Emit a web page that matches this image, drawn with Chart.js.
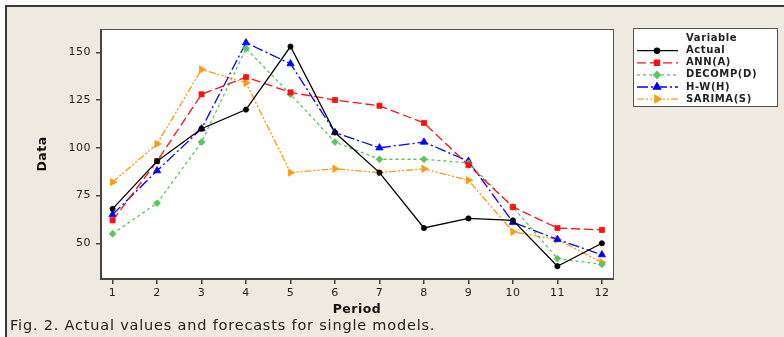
<!DOCTYPE html>
<html>
<head>
<meta charset="utf-8">
<script src="https://cdn.jsdelivr.net/npm/chart.js@4"></script>
<style>
  html, body { margin: 0; padding: 0; background: #fff; }
  body { width: 784px; height: 337px; position: relative; overflow: hidden; }
  #frame {
    position: absolute; left: 5px; top: 5px; width: 800px; height: 340px;
    background: #eeeae0; border-top: 2px solid #3a3a3a; border-left: 2px solid #3a3a3a;
  }
  #chart { position: absolute; left: 0; top: 0; }
  #caption {
    position: absolute; left: 10px; top: 317px;
    font: 14.5px "DejaVu Sans", sans-serif; letter-spacing: 0.8px; color: #222; white-space: nowrap;
  }
</style>
</head>
<body>
<div id="frame"></div>
<canvas id="chart" width="784" height="337"></canvas>
<div id="caption">Fig. 2. Actual values and forecasts for single models.</div>
<script>
// ✅ Chart data
const periods = [1, 2, 3, 4, 5, 6, 7, 8, 9, 10, 11, 12];
const actual = [68, 93, 110, 120, 153, 108, 87, 58, 63, 62, 38, 50];
const ann = [62, 93, 128, 137, 129, 125, 122, 113, 91, 69, 58, 57];
const decomp = [55, 71, 103, 152, 128, 103, 94, 94, 92, 69, 42, 39];
const holtWinters = [65, 88, 110, 155, 144, 108, 100, 103, 93, 61, 52, 44];
const sarima = [82, 102, 141, 134, 87, 89, 87, 89, 83, 56, 52, 40];
const yTicks = [50, 75, 100, 125, 150];
const seriesLabels = ["Actual", "ANN(A)", "DECOMP(D)", "H-W(H)", "SARIMA(S)"];

const toPoints = (values) => periods.map((p, i) => ({ x: p, y: values[i] }));

const styles = [
  { color: "#000000", dash: [], pointStyle: "circle", radius: 2.6, rotation: 0 },
  { color: "#ff1010", dash: [9, 4], pointStyle: "rect", radius: 3.6, rotation: 0 },
  { color: "#5cc45c", dash: [3, 3], pointStyle: "rectRot", radius: 3.4, rotation: 0 },
  { color: "#0000ff", dash: [11, 3, 2, 3], pointStyle: "triangle", radius: 4.2, rotation: 0 },
  { color: "#ff9a10", dash: [7, 2, 2, 2, 2, 2], pointStyle: "triangle", radius: 4.2, rotation: 90 },
];
const allValues = [actual, ann, decomp, holtWinters, sarima];

const datasets = allValues.map((values, i) => ({
  label: seriesLabels[i],
  data: toPoints(values),
  borderColor: styles[i].color,
  backgroundColor: styles[i].color,
  borderWidth: 1.3,
  borderDash: styles[i].dash,
  pointStyle: styles[i].pointStyle,
  pointRotation: styles[i].rotation,
  pointRadius: styles[i].radius,
  pointBorderWidth: 0.8,
  tension: 0,
}));

// ✅ Plot area background, frame and the boxed legend
const framePlugin = {
  id: "frame",
  afterInit(chart) {
    chart.ctx.letterSpacing = "0.5px";
  },
  beforeDatasetsDraw(chart) {
    const { ctx, chartArea: a } = chart;
    ctx.save();
    ctx.fillStyle = "#ffffff";
    ctx.fillRect(a.left, a.top, a.right - a.left, a.bottom - a.top);
    ctx.strokeStyle = "#555";
    ctx.lineWidth = 1;
    ctx.strokeRect(a.left + 0.5, a.top + 0.5, a.right - a.left, a.bottom - a.top);
    ctx.lineWidth = 2;
    ctx.strokeStyle = "#444";
    ctx.beginPath();
    ctx.moveTo(a.left, a.top);
    ctx.lineTo(a.left, a.bottom);
    ctx.lineTo(a.right, a.bottom);
    ctx.stroke();
    ctx.restore();
  },
  afterDraw(chart) {
    const ctx = chart.ctx;
    ctx.save();
    ctx.fillStyle = "#ffffff";
    ctx.fillRect(633, 28, 144, 78);
    ctx.strokeStyle = "#555";
    ctx.lineWidth = 1;
    ctx.strokeRect(633.5, 28.5, 144, 78);

    ctx.font = "bold 10px 'DejaVu Sans'";
    ctx.letterSpacing = "0.6px";
    ctx.textBaseline = "middle";
    ctx.fillStyle = "#222";
    ctx.fillText("Variable", 686, 38.5);

    chart.data.datasets.forEach((ds, i) => {
      const y = 50.7 + i * 12.1;
      ctx.strokeStyle = ds.borderColor;
      ctx.fillStyle = ds.borderColor;
      ctx.lineWidth = 1.3;
      ctx.setLineDash(ds.borderDash);
      ctx.beginPath();
      ctx.moveTo(637, y);
      ctx.lineTo(678, y);
      ctx.stroke();
      ctx.setLineDash([]);
      Chart.helpers.drawPoint(ctx, {
        pointStyle: ds.pointStyle,
        rotation: ds.pointRotation,
        radius: ds.pointRadius,
        borderWidth: 0.8,
      }, 657, y);
      ctx.fillStyle = "#222";
      ctx.fillText(ds.label, 686, y);
    });
    ctx.restore();
  },
};

new Chart(document.getElementById("chart"), {
  type: "line",
  data: { datasets },
  options: {
    responsive: false,
    animation: false,
    devicePixelRatio: 1,
    layout: { padding: { left: 0, top: 29, right: 171, bottom: 0 } },
    plugins: { legend: { display: false }, tooltip: { enabled: false } },
    scales: {
      x: {
        type: "linear",
        min: 0.74,
        max: 12.25,
        afterFit: (scale) => { scale.height = 58; },
        afterBuildTicks: (scale) => { scale.ticks = periods.map((v) => ({ value: v })); },
        grid: { drawOnChartArea: false, drawTicks: true, tickLength: 5, color: "#444", lineWidth: 1.5 },
        border: { display: false },
        ticks: { padding: 3, color: "#222", font: { family: "DejaVu Sans", size: 11 } },
        title: {
          display: true, text: "Period", color: "#111",
          font: { family: "DejaVu Sans", size: 12.5, weight: "bold" },
          padding: { top: 0, bottom: 20 },
        },
      },
      y: {
        min: 31.3,
        max: 162.2,
        afterFit: (scale) => { scale.width = 101; },
        afterBuildTicks: (scale) => { scale.ticks = yTicks.map((v) => ({ value: v })); },
        grid: { drawOnChartArea: false, drawTicks: true, tickLength: 5, color: "#444", lineWidth: 1.5 },
        border: { display: false },
        ticks: { padding: 5, color: "#222", font: { family: "DejaVu Sans", size: 11 } },
        title: {
          display: true, text: "Data", color: "#111",
          font: { family: "DejaVu Sans", size: 12.5, weight: "bold" },
          padding: { top: 35, bottom: 0 },
        },
      },
    },
  },
  plugins: [framePlugin],
});
</script>
</body>
</html>
